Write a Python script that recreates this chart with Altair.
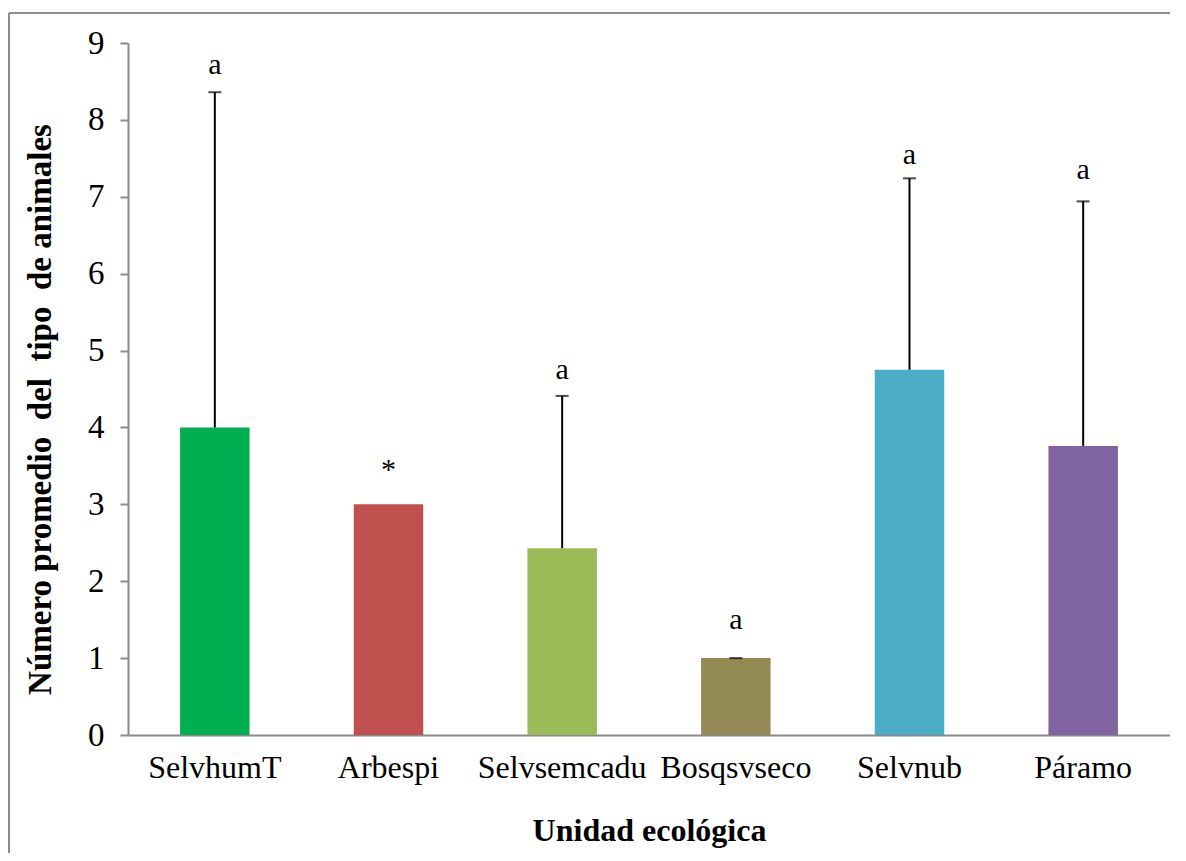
import altair as alt
import pandas as pd

categories = ["SelvhumT", "Arbespi", "Selvsemcadu", "Bosqsvseco", "Selvnub", "Páramo"]
means = [4.0, 3.0, 2.43, 1.0, 4.75, 3.76]
upper = [8.36, None, 4.41, 1.0, 7.24, 6.94]
letters = ["a", "*", "a", "a", "a", "a"]
letter_y = [8.71, 3.45, 4.75, 1.5, 7.54, 7.35]
colors = ["#00B050", "#C0504D", "#9BBB59", "#948A54", "#4BACC6", "#8064A2"]

df = pd.DataFrame({"cat": categories, "mean": means, "upper": upper,
                   "letter": letters, "ly": letter_y, "color": colors})

FONT = "Liberation Serif"
W, H = 1042, 692

xenc = alt.X("cat:N", sort=categories,
             scale=alt.Scale(paddingInner=0.6, paddingOuter=0.3),
             axis=alt.Axis(title="Unidad ecológica", labelAngle=0, ticks=False,
                           labelFontSize=32, labelPadding=17, labelColor="black",
                           domainColor="#898989", domainWidth=2,
                           titleFontSize=32, titleFontWeight="bold", titleColor="black",
                           titleY=95, titleBaseline="middle"))
yscale = alt.Scale(domain=[0, 9], nice=False)

base = alt.Chart(df)

bars = base.mark_bar().encode(
    x=xenc,
    y=alt.Y("mean:Q", scale=yscale,
            axis=alt.Axis(title="Número\u00a0promedio\u00a0\u00a0del\u00a0\u00a0tipo\u00a0\u00a0de\u00a0animales",
                          values=list(range(10)), format="d", grid=False, tickSize=8, tickColor="#898989",
                          tickWidth=2, domainColor="#898989", domainWidth=2,
                          labelFontSize=33, labelPadding=16, labelColor="black",
                          titleFontSize=33, titleFontWeight="bold", titleColor="black",
                          titleX=-88, titleY=H / 2 + 20, titleAngle=-90, titleAlign="center",
                          titleBaseline="middle")),
    color=alt.Color("color:N", scale=None),
)

err = base.transform_filter("datum.upper != null").mark_rule(color="black", strokeWidth=2).encode(
    x=alt.X("cat:N", sort=categories), y="mean:Q", y2="upper:Q")
caps = base.transform_filter("datum.upper != null").mark_tick(
    color="black", thickness=2, size=13, orient="horizontal").encode(
    x=alt.X("cat:N", sort=categories), y="upper:Q")
text = base.mark_text(fontSize=30, font=FONT, baseline="middle", color="black").encode(
    x=alt.X("cat:N", sort=categories), y="ly:Q", text="letter:N")

frame_top = alt.Chart(pd.DataFrame({"k": [0]})).mark_rule(color="#8c8c8c", strokeWidth=2, clip=False).encode(
    x=alt.value(-119), x2=alt.value(W + 20), y=alt.value(-30))
frame_left = alt.Chart(pd.DataFrame({"k": [0]})).mark_rule(color="#8c8c8c", strokeWidth=2, clip=False).encode(
    x=alt.value(-119), y=alt.value(-30), y2=alt.value(H + 130))

chart = alt.layer(bars, err, caps, text, frame_top, frame_left).properties(
    width=W, height=H,
    autosize=alt.AutoSizeParams(type="none"),
    padding={"left": 120, "top": 35, "right": 0, "bottom": 118},
).configure(
    font=FONT,
    view=alt.ViewConfig(stroke=None),
    axis=alt.AxisConfig(labelFont=FONT, titleFont=FONT),
)

chart.save("out.html", embed_options={"renderer": "svg", "actions": False})
